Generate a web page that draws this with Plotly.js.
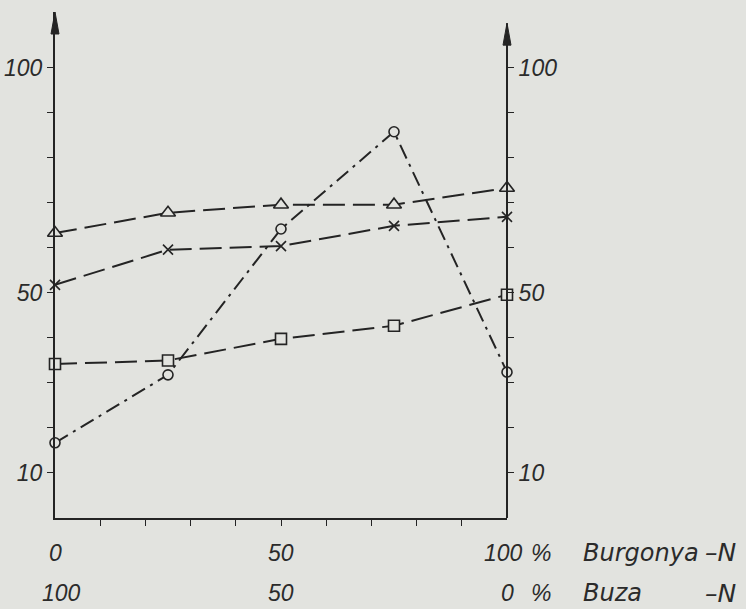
<!DOCTYPE html>
<html>
<head>
<meta charset="utf-8">
<script src="https://cdn.plot.ly/plotly-3.0.1.min.js"></script>
<style>html,body{margin:0;padding:0;background:#e2e3df;}</style>
</head>
<body>
<div id="chart" style="width:746px;height:609px;"></div>
<script>
// Share of Burgonya-N (%) ; Buza-N share is 100 - x
const xShare = [0, 25, 50, 75, 100];
const triangleSeries = [63.3, 67.8, 69.6, 69.6, 73.3];
const crossSeries    = [51.8, 59.6, 60.4, 64.9, 66.9];
const squareSeries   = [34.2, 35.0, 39.8, 42.7, 49.6];
const circleSeries   = [16.7, 31.8, 64.2, 85.8, 32.4];

const yTickVals = [10, 20, 30, 40, 50, 60, 70, 80, 90, 100];
const yTickText = ['10', '', '', '', '50', '', '', '', '', '100'];
const xTickVals = [10, 20, 30, 40, 50, 60, 70, 80, 90];
const xLabelPos = [0, 50, 100];
const xLabelsBurgonya = ['0', '50', '100'];
const xLabelsBuza = ['100', '50', '0'];
const rowNameBurgonya = 'Burgonya';
const rowNameBuza = 'Buza';
const unitText = '%';
const suffixText = '–N';

const BG = '#e2e3df';
const INK = '#242424';
const NUMFONT = {family: 'Liberation Sans, Arial, sans-serif', size: 23, color: '#2b2b2b', style: 'italic'};
const WORDFONT = {family: 'DejaVu Sans, sans-serif', size: 24, color: '#2b2b2b', style: 'italic'};
const SUFFIXFONT = {family: 'DejaVu Sans, sans-serif', size: 25, color: '#2b2b2b', style: 'italic'};

function series(y, symbol, size, dash) {
  return {
    x: xShare, y: y, type: 'scatter', mode: 'lines+markers', cliponaxis: false,
    line: {color: INK, width: 2, dash: dash},
    marker: {symbol: symbol, size: size, color: BG, line: {color: INK, width: 1.6}},
    showlegend: false, hoverinfo: 'skip'
  };
}
const longDash = '22px,8px';
const dashDot = '15px,6px,3px,6px';

const traces = [
  series(circleSeries, 'circle', 10, dashDot),
  series(squareSeries, 'square', 11, longDash),
  series(crossSeries, 'x-thin', 10, longDash),
  series(triangleSeries, 'triangle-up', 13, longDash)
];

const yTop = 112.4;
const yAxisCommon = {
  range: [0, yTop], tickmode: 'array', tickvals: yTickVals, ticktext: yTickText,
  ticks: 'outside', ticklen: 6, tickwidth: 1, tickcolor: INK,
  showgrid: false, zeroline: false, tickfont: NUMFONT, fixedrange: true
};

// plot area in pixels: x 55..507 (paper 0..1)
const row1Y = -0.069, row2Y = -0.149;
const annotations = [];
xLabelPos.forEach((p, i) => {
  annotations.push({x: p, y: row1Y, xref: 'x', yref: 'paper', text: xLabelsBurgonya[i], showarrow: false, font: NUMFONT, xanchor: 'center', yanchor: 'middle', xshift: (p === 100 ? -4 : 0)});
  annotations.push({x: p, y: row2Y, xref: 'x', yref: 'paper', text: xLabelsBuza[i], showarrow: false, font: NUMFONT, xanchor: 'center', yanchor: 'middle', xshift: (p === 0 ? 6 : 0)});
});
[row1Y, row2Y].forEach(yy => {
  annotations.push({x: 1.075, y: yy, xref: 'paper', yref: 'paper', text: unitText, showarrow: false, font: NUMFONT, xanchor: 'center', yanchor: 'middle'});
  annotations.push({x: 1.434, y: yy, xref: 'paper', yref: 'paper', text: suffixText, showarrow: false, font: SUFFIXFONT, xanchor: 'left', yanchor: 'middle'});
});
annotations.push({x: 1.164, y: row1Y, xref: 'paper', yref: 'paper', text: rowNameBurgonya, showarrow: false, font: WORDFONT, xanchor: 'left', yanchor: 'middle'});
annotations.push({x: 1.164, y: row2Y, xref: 'paper', yref: 'paper', text: rowNameBuza, showarrow: false, font: WORDFONT, xanchor: 'left', yanchor: 'middle'});

const rightTop = 0.978;
const hw = 4 / 452, hl = 22 / 506;
const shapes = [
  {type: 'line', xref: 'paper', yref: 'paper', x0: 1, x1: 1, y0: 0, y1: rightTop, line: {color: INK, width: 2}},
  {type: 'path', xref: 'paper', yref: 'paper', path: `M ${-hw},${1 - hl} L 0,1 L ${hw},${1 - hl} Z`, fillcolor: INK, line: {color: INK, width: 1}},
  {type: 'path', xref: 'paper', yref: 'paper', path: `M ${1 - hw},${rightTop - hl} L 1,${rightTop} L ${1 + hw},${rightTop - hl} Z`, fillcolor: INK, line: {color: INK, width: 1}}
];

const layout = {
  width: 746, height: 609,
  margin: {l: 55, r: 239, t: 12, b: 91, pad: 0},
  paper_bgcolor: BG, plot_bgcolor: BG,
  showlegend: false,
  xaxis: {
    range: [0, 100], tickmode: 'array', tickvals: xTickVals, ticktext: xTickVals.map(() => ''),
    ticks: 'outside', ticklen: 6, tickwidth: 1, tickcolor: INK,
    showline: true, linecolor: INK, linewidth: 2, showgrid: false, zeroline: false, fixedrange: true
  },
  yaxis: Object.assign({}, yAxisCommon, {showline: true, linecolor: INK, linewidth: 2, side: 'left'}),
  yaxis2: Object.assign({}, yAxisCommon, {overlaying: 'y', side: 'right', showline: false, matches: 'y'}),
  annotations: annotations,
  shapes: shapes
};

// invisible trace so the right axis is drawn
traces.push({x: [null], y: [null], yaxis: 'y2', type: 'scatter', mode: 'markers', showlegend: false, hoverinfo: 'skip'});

Plotly.newPlot('chart', traces, layout, {staticPlot: true, displayModeBar: false});
</script>
</body>
</html>
